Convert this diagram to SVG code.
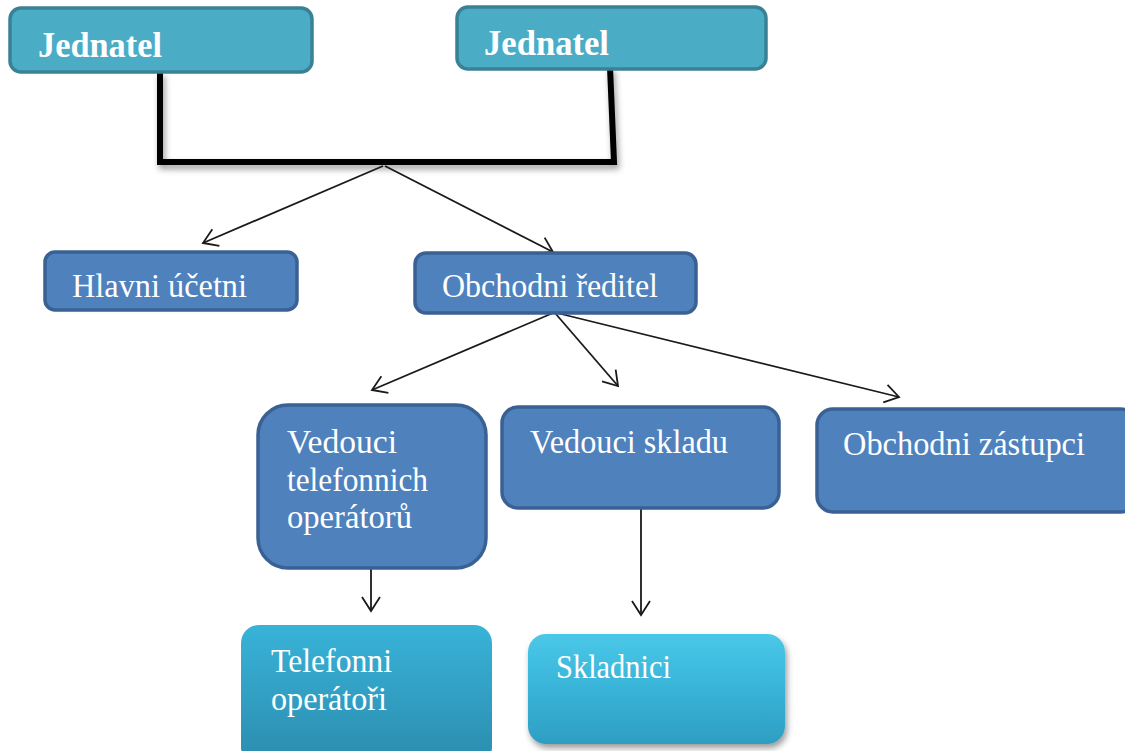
<svg xmlns="http://www.w3.org/2000/svg" width="1125" height="751" viewBox="0 0 1125 751">
<defs>
<style>
.jn{fill:#4bacc6;stroke:#3a8196;stroke-width:3.5}
.bl{fill:#4f81bd;stroke:#3a6193;stroke-width:3.5}
.tb{font-family:"Liberation Serif","Times New Roman",serif;font-weight:bold;font-size:35px;fill:#ffffff}
.t{font-family:"Liberation Serif","Times New Roman",serif;font-size:33px;fill:#ffffff}
.c{fill:none;stroke:#1a1a1a;stroke-width:1.8}
</style>
<marker id="ar" markerWidth="22" markerHeight="22" refX="17" refY="11" orient="auto" markerUnits="userSpaceOnUse">
<polyline points="3,2 17,11 3,20" fill="none" stroke="#1a1a1a" stroke-width="1.8"/>
</marker>
<linearGradient id="g1" x1="0" y1="0" x2="0" y2="1">
<stop offset="0" stop-color="#38b3d8"/>
<stop offset="1" stop-color="#2b8cae"/>
</linearGradient>
<linearGradient id="g2" x1="0" y1="0" x2="0" y2="1">
<stop offset="0" stop-color="#4ac8e8"/>
<stop offset="0.5" stop-color="#38b4d8"/>
<stop offset="1" stop-color="#2e9ec2"/>
</linearGradient>
<filter id="sh" x="-10%" y="-10%" width="130%" height="140%">
<feDropShadow dx="2" dy="4" stdDeviation="3" flood-color="#000" flood-opacity="0.4"/>
</filter>
</defs>
<rect width="1125" height="751" fill="#ffffff"/>
<g id="connectors">
<polyline points="160,72 160,162 614,162 610,67" fill="none" stroke="#000" stroke-width="6" filter="url(#sh)"/>
<line class="c" x1="383" y1="166" x2="203" y2="243" marker-end="url(#ar)"/>
<line class="c" x1="385" y1="166" x2="553" y2="252" marker-end="url(#ar)"/>
<line class="c" x1="553" y1="313" x2="372" y2="390" marker-end="url(#ar)"/>
<line class="c" x1="555" y1="313" x2="618" y2="386" marker-end="url(#ar)"/>
<line class="c" x1="557" y1="313" x2="899" y2="397" marker-end="url(#ar)"/>
<line class="c" x1="371" y1="569" x2="371" y2="611" marker-end="url(#ar)"/>
<line class="c" x1="641" y1="509" x2="641" y2="615" marker-end="url(#ar)"/>
</g>
<g id="jednatel1">
<rect class="jn" x="10" y="8" width="302" height="64" rx="11"/>
<text class="tb" x="38" y="57" textLength="124" lengthAdjust="spacingAndGlyphs">Jednatel</text>
</g>
<g id="jednatel2">
<rect class="jn" x="457" y="7" width="309" height="62" rx="11"/>
<text class="tb" x="484" y="55" textLength="125" lengthAdjust="spacingAndGlyphs">Jednatel</text>
</g>
<g id="hlavni-ucetni">
<rect class="bl" x="45" y="252" width="252" height="58" rx="10"/>
<text class="t" x="72" y="297" textLength="175" lengthAdjust="spacingAndGlyphs">Hlavni účetni</text>
</g>
<g id="obchodni-reditel">
<rect class="bl" x="415" y="253" width="281" height="60" rx="11"/>
<text class="t" x="442" y="297" textLength="216" lengthAdjust="spacingAndGlyphs">Obchodni ředitel</text>
</g>
<g id="vedouci-telefonnich">
<rect class="bl" x="258" y="405" width="228" height="163" rx="30"/>
<text class="t" x="287" y="453" textLength="110" lengthAdjust="spacingAndGlyphs">Vedouci</text>
<text class="t" x="287" y="491" textLength="141" lengthAdjust="spacingAndGlyphs">telefonnich</text>
<text class="t" x="287" y="528" textLength="125" lengthAdjust="spacingAndGlyphs">operátorů</text>
</g>
<g id="vedouci-skladu">
<rect class="bl" x="502" y="407" width="277" height="101" rx="16"/>
<text class="t" x="530" y="453" textLength="198" lengthAdjust="spacingAndGlyphs">Vedouci skladu</text>
</g>
<g id="obchodni-zastupci">
<rect class="bl" x="817" y="409" width="320" height="103" rx="16"/>
<text class="t" x="843" y="455" textLength="242" lengthAdjust="spacingAndGlyphs">Obchodni zástupci</text>
</g>
<g id="telefonni-operatori">
<rect x="241" y="625" width="251" height="140" rx="18" fill="url(#g1)"/>
<text class="t" x="271" y="672" textLength="121" lengthAdjust="spacingAndGlyphs">Telefonni</text>
<text class="t" x="271" y="710" textLength="116" lengthAdjust="spacingAndGlyphs">operátoři</text>
</g>
<g id="skladnici">
<rect x="528" y="634" width="257" height="110" rx="18" fill="url(#g2)" filter="url(#sh)"/>
<text class="t" x="556" y="678" textLength="115" lengthAdjust="spacingAndGlyphs">Skladnici</text>
</g>
</svg>
